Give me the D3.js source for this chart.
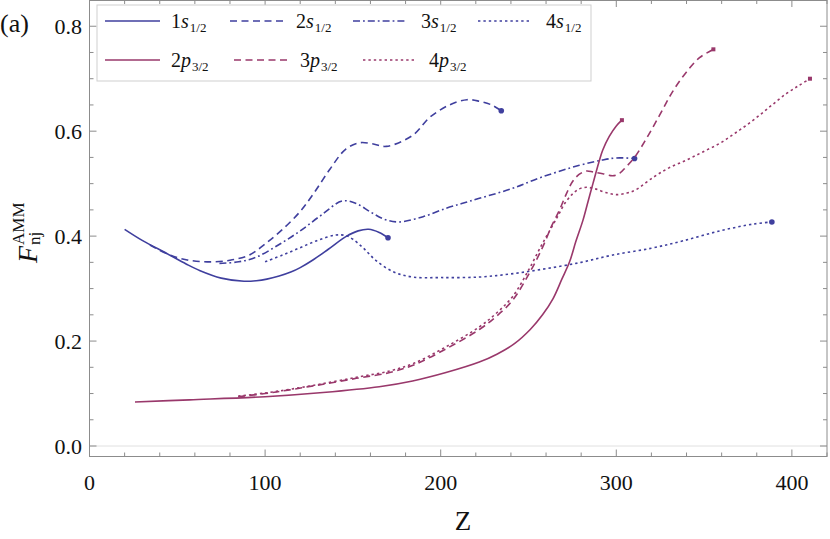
<!DOCTYPE html>
<html><head><meta charset="utf-8">
<script src="https://cdn.jsdelivr.net/npm/d3@7/dist/d3.min.js"></script>
<style>body{margin:0;background:#fff}svg{display:block}text{font-family:"Liberation Serif","DejaVu Serif",serif}</style>
</head><body><svg id="c" width="830" height="539"></svg>
<script>
// ---- data ----
const xTicks = [0, 100, 200, 300, 400];
const yTicks = [0.0, 0.2, 0.4, 0.6, 0.8];

const z1s = [20, 30, 44, 55, 63, 75, 88, 95, 101, 108, 115, 120, 127, 136, 146, 153, 159, 165, 170];
const v1s = [0.413, 0.392, 0.367, 0.347, 0.334, 0.320, 0.314, 0.315, 0.318, 0.324, 0.332, 0.340, 0.354, 0.375, 0.399, 0.410, 0.413, 0.407, 0.397];

const z2s = [34.4, 45, 55, 67, 80, 91, 100, 110, 120, 128, 137, 146, 154, 161, 169, 184, 194, 205, 215, 222, 229, 234.5];
const v2s = [0.383, 0.365, 0.355, 0.351, 0.354, 0.364, 0.385, 0.413, 0.447, 0.483, 0.528, 0.566, 0.578, 0.576, 0.571, 0.592, 0.627, 0.650, 0.660, 0.657, 0.650, 0.639];

const z3s = [74, 85, 95, 108, 120, 132, 144, 152, 160, 168, 176, 190, 203, 212, 222, 240, 258, 279, 292, 300, 310.4];
const v3s = [0.348, 0.351, 0.360, 0.384, 0.410, 0.440, 0.467, 0.462, 0.446, 0.432, 0.427, 0.437, 0.453, 0.462, 0.472, 0.490, 0.513, 0.535, 0.545, 0.549, 0.548];

const z4s = [100, 110, 120, 130, 140, 146, 150, 156, 163, 173, 184, 200, 222, 240, 260, 280, 298, 320, 338, 359, 378, 388.6];
const v4s = [0.351, 0.364, 0.378, 0.392, 0.402, 0.401, 0.394, 0.377, 0.354, 0.332, 0.322, 0.321, 0.322, 0.328, 0.338, 0.350, 0.364, 0.377, 0.391, 0.410, 0.423, 0.427];

const z2p = [25.9, 57, 100, 133, 165, 184, 203, 222, 232, 242, 251, 258, 264, 269, 273.4, 277, 281, 284, 286.7, 290, 292.3, 296, 300, 303.2];
const v2p = [0.084, 0.088, 0.094, 0.102, 0.113, 0.124, 0.140, 0.160, 0.175, 0.195, 0.222, 0.250, 0.281, 0.318, 0.351, 0.390, 0.430, 0.467, 0.500, 0.540, 0.564, 0.590, 0.610, 0.621];

const z3p = [84.7, 100, 114, 130, 152, 171, 185, 203, 222, 232, 241, 250.6, 258.2, 263, 267.7, 271.5, 275.3, 279, 282.9, 287, 292.3, 298, 302, 305.6, 310.4, 317, 324.6, 332, 340, 347.4, 355.3];
const v3p = [0.094, 0.100, 0.107, 0.116, 0.129, 0.140, 0.155, 0.185, 0.222, 0.248, 0.278, 0.330, 0.380, 0.418, 0.450, 0.480, 0.505, 0.518, 0.524, 0.522, 0.519, 0.515, 0.520, 0.532, 0.550, 0.585, 0.630, 0.675, 0.713, 0.740, 0.756];

const z4p = [84.7, 100, 114, 130, 152, 171, 185, 203, 222, 232, 241, 250, 257, 262, 267, 271, 275, 279, 283, 288, 294, 300, 306, 311, 321, 330, 340, 349, 359, 368, 378, 388, 397, 404, 410.3];
const v4p = [0.095, 0.101, 0.108, 0.117, 0.131, 0.143, 0.158, 0.189, 0.227, 0.254, 0.285, 0.335, 0.380, 0.410, 0.440, 0.464, 0.480, 0.490, 0.493, 0.490, 0.483, 0.479, 0.482, 0.488, 0.512, 0.530, 0.545, 0.560, 0.577, 0.597, 0.621, 0.648, 0.672, 0.687, 0.700];

// ---- styles ----
const BLUE = "#3f3f9e", PURP = "#99386b";
const DASH = {solid: null, dashed: "7,4.5", dashdot: "7,3,1.8,3", dotted: "2.4,3"};

const series = [
  {name: "1", orb: "s", sub: "1/2", z: z1s, v: v1s, color: BLUE, dash: "solid", marker: "circle"},
  {name: "2", orb: "s", sub: "1/2", z: z2s, v: v2s, color: BLUE, dash: "dashed", marker: "circle"},
  {name: "3", orb: "s", sub: "1/2", z: z3s, v: v3s, color: BLUE, dash: "dashdot", marker: "circle"},
  {name: "4", orb: "s", sub: "1/2", z: z4s, v: v4s, color: BLUE, dash: "dotted", marker: "circle"},
  {name: "2", orb: "p", sub: "3/2", z: z2p, v: v2p, color: PURP, dash: "solid", marker: "square"},
  {name: "3", orb: "p", sub: "3/2", z: z3p, v: v3p, color: PURP, dash: "dashed", marker: "square"},
  {name: "4", orb: "p", sub: "3/2", z: z4p, v: v4p, color: PURP, dash: "dotted", marker: "square"}
];

// ---- layout ----
const svg = d3.select("#c");
const L = 89.5, R = 827, T = 0, B = 456.5;
const x = d3.scaleLinear().domain([0, 420]).range([L, R]);
const y = d3.scaleLinear().domain([-0.02, 0.85]).range([B, T]);

const FRAME = "#8c8c8c";
svg.append("line").attr("x1", L).attr("x2", R).attr("y1", y(0)).attr("y2", y(0))
  .attr("stroke", "#e0e0e0").attr("stroke-width", 1);
svg.append("rect").attr("x", L).attr("y", T + 0.5).attr("width", R - L).attr("height", B - T - 0.5)
  .attr("fill", "none").attr("stroke", FRAME).attr("stroke-width", 1);

const xMinor = d3.range(0, 421, 20);
const yMinor = d3.range(0, 0.851, 0.05);
const g = svg.append("g").attr("stroke", FRAME).attr("stroke-width", 1);
xMinor.forEach(t => {
  const major = Math.abs(t % 100) < 1e-6;
  const len = major ? 7 : 4;
  g.append("line").attr("x1", x(t)).attr("x2", x(t)).attr("y1", B).attr("y2", B - len);
  g.append("line").attr("x1", x(t)).attr("x2", x(t)).attr("y1", T).attr("y2", T + len);
});
yMinor.forEach(t => {
  const major = Math.abs(Math.round(t * 100) % 20) < 1e-6;
  const len = major ? 7 : 4;
  g.append("line").attr("y1", y(t)).attr("y2", y(t)).attr("x1", L).attr("x2", L + len);
  g.append("line").attr("y1", y(t)).attr("y2", y(t)).attr("x1", R).attr("x2", R - len);
});

svg.selectAll(".xl").data(xTicks).enter().append("text")
  .attr("x", d => x(d)).attr("y", 490).attr("text-anchor", "middle")
  .attr("font-size", 22).attr("fill", "#111").text(d => d);
svg.selectAll(".yl").data(yTicks).enter().append("text")
  .attr("x", 82).attr("y", d => y(d) + 7.5).attr("text-anchor", "end")
  .attr("font-size", 22).attr("fill", "#111").text(d => d.toFixed(1));

svg.append("text").attr("x", 463).attr("y", 530).attr("text-anchor", "middle")
  .attr("font-size", 27).attr("fill", "#111").text("Z");
const yl = svg.append("g").attr("transform", "translate(37,263) rotate(-90)").attr("fill", "#111");
yl.append("text").attr("x", 0).attr("y", 0).attr("font-size", 28).attr("font-style", "italic").text("F");
yl.append("text").attr("x", 18).attr("y", -13).attr("font-size", 17).text("AMM");
yl.append("text").attr("x", 18).attr("y", 3).attr("font-size", 17).text("nj");

svg.append("text").attr("x", 0).attr("y", 32).attr("font-size", 26).attr("fill", "#111").text("(a)");

const line = d3.line().x(d => x(d[0])).y(d => y(d[1])).curve(d3.curveCatmullRom.alpha(0.5));
series.forEach(s => {
  const pts = s.z.map((zz, i) => [zz, s.v[i]]);
  svg.append("path").attr("d", line(pts)).attr("fill", "none")
    .attr("stroke", s.color).attr("stroke-width", 1.6)
    .attr("stroke-dasharray", DASH[s.dash]);
  const last = pts[pts.length - 1];
  if (s.marker === "circle") {
    svg.append("circle").attr("cx", x(last[0])).attr("cy", y(last[1])).attr("r", 2.8).attr("fill", s.color);
  } else {
    svg.append("rect").attr("x", x(last[0]) - 2).attr("y", y(last[1]) - 2).attr("width", 4).attr("height", 4).attr("fill", s.color);
  }
});

const lg = svg.append("g");
lg.append("rect").attr("x", 97).attr("y", 5).attr("width", 494).attr("height", 76)
  .attr("fill", "#fff").attr("stroke", "#cfcfcf").attr("stroke-width", 1);
const legPos = [
  {x0: 105, x1: 160, tx: 171, ly: 21},
  {x0: 230, x1: 283, tx: 296, ly: 21},
  {x0: 353, x1: 407, tx: 421, ly: 21},
  {x0: 478, x1: 532, tx: 546, ly: 21},
  {x0: 105, x1: 160, tx: 171, ly: 60},
  {x0: 234, x1: 287, tx: 300, ly: 60},
  {x0: 363, x1: 417, tx: 429, ly: 60}
];
series.forEach((s, i) => {
  const p = legPos[i];
  lg.append("line").attr("x1", p.x0).attr("x2", p.x1).attr("y1", p.ly).attr("y2", p.ly)
    .attr("stroke", s.color).attr("stroke-width", 1.6).attr("stroke-dasharray", DASH[s.dash]);
  const t = lg.append("text").attr("x", p.tx).attr("y", p.ly + 7).attr("font-size", 20).attr("fill", "#111");
  t.append("tspan").text(s.name);
  t.append("tspan").attr("font-style", "italic").text(s.orb);
  t.append("tspan").attr("font-size", 13).attr("dy", 4).attr("dx", 1).text(s.sub);
});
</script></body></html>
